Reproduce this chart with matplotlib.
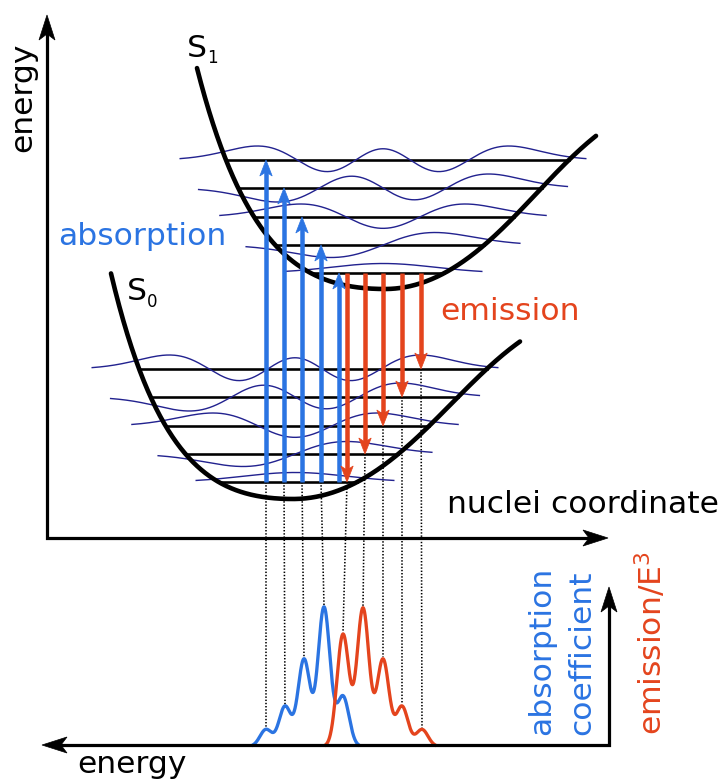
import numpy as np
import matplotlib.pyplot as plt
from matplotlib.patches import Polygon
from numpy.polynomial import hermite

# canvas in pixel units (y grows downward)
W, H = 726, 780
PT = 0.72  # points per pixel at 100 dpi

BLUE = '#2b74e2'
RED = '#e4441d'
NAVY = '#22228f'
FS = 22.6

# potential wells: bottom position and shape parameters
s0_bottom = (293, 499)
s1_bottom = (385, 289)
s0_shape = dict(a_left=0.0065, d_left=44.0, w_right=220.0, d_right=200.0)
s1_shape = dict(a_left=0.006, d_left=50.6, w_right=210.0, d_right=200.0)
s0_span = (-182, 227)
s1_span = (-188, 211)

# vibrational levels, height above the bottom of each well
s0_levels = [17, 45, 73, 102, 130]
s1_levels = [16, 44, 72, 101, 129]

# wavefunction centres, width unit and drawn amplitude per quantum number
s0_wave_centre = 295
s1_wave_centre = 383
wave_unit = 52
wave_amp = [9.5, 12.5, 13, 14, 14]

# vertical transitions
absorption_x = [266, 284, 302, 321, 339]
absorption_to = [4, 3, 2, 1, 0]
emission_x = [347, 365, 383, 402, 421]
emission_to = [0, 1, 2, 3, 4]

# spectrum peaks (position along the energy axis, height)
abs_peak_x = [266, 285, 304, 324, 343]
abs_peak_h = [17, 40, 87, 139, 50]
em_peak_x = [343, 363, 383, 402, 422]
em_peak_h = [112, 138, 87, 40, 17]
peak_sigma = 6.0
spec_base = 745


def well_height(u, a_left, d_left, w_right, d_right):
    u = np.asarray(u, float)
    left = d_left * (np.exp(-a_left * u) - 1) ** 2
    right = d_right * np.tanh((u / w_right) ** 2)
    return np.where(u < 0, left, right)


def turning_points(e, a_left, d_left, w_right, d_right):
    ul = -np.log(1 + np.sqrt(e / d_left)) / a_left
    ur = w_right * np.sqrt(np.arctanh(e / d_right))
    return ul, ur


def wavefunction(n, xi):
    c = np.zeros(n + 1)
    c[n] = 1
    psi = hermite.hermval(xi, c) * np.exp(-xi ** 2 / 2)
    return psi / np.abs(psi).max()


def spectrum(x, centres, heights):
    x = np.asarray(x, float)
    out = np.zeros_like(x)
    for c, h in zip(centres, heights):
        out += h * np.exp(-(x - c) ** 2 / (2 * peak_sigma ** 2))
    return out


def arrow_head(ax, x, y, direction, length, half, notch, color, z):
    # direction: -1 points up the page, +1 points down
    back = y - direction * length
    pts = [(x, y), (x - half, back), (x, back + direction * notch), (x + half, back)]
    ax.add_patch(Polygon(pts, closed=True, facecolor=color, edgecolor=color,
                         lw=0.5, zorder=z))


def head_h(ax, x, y, direction, length, half, notch, color, z):
    back = x - direction * length
    pts = [(x, y), (back, y - half), (back + direction * notch, y), (back, y + half)]
    ax.add_patch(Polygon(pts, closed=True, facecolor=color, edgecolor=color,
                         lw=0.5, zorder=z))


def transition(ax, x, y0, y1, color):
    d = 1 if y1 > y0 else -1
    ax.plot([x, x], [y0, y1 - d * 10], color=color, lw=4.5 * PT,
            solid_capstyle='butt', zorder=6)
    arrow_head(ax, x, y1, d, 16, 6.2, 4, color, 6)


fig = plt.figure(figsize=(W / 100, H / 100), dpi=100)
ax = fig.add_axes([0, 0, 1, 1])
ax.set_xlim(0, W)
ax.set_ylim(H, 0)
ax.axis('off')

wells = [(s0_bottom, s0_shape, s0_span, s0_levels, s0_wave_centre),
         (s1_bottom, s1_shape, s1_span, s1_levels, s1_wave_centre)]
level_y = []
for (bx, by), shape, span, levels, wc in wells:
    u = np.linspace(span[0], span[1], 600)
    ax.plot(bx + u, by - well_height(u, **shape), color='black',
            lw=4.6 * PT, solid_capstyle='round', zorder=4)
    ys = []
    for n, e in enumerate(levels):
        y = by - e
        ys.append(y)
        ul, ur = turning_points(e, **shape)
        ax.plot([bx + ul, bx + ur], [y, y], color='black', lw=2.6 * PT, zorder=2)
        reach = np.sqrt(2 * n + 1) + 0.9
        xi = np.linspace(-reach, reach, 400)
        ax.plot(wc + xi * wave_unit, y - wave_amp[n] * wavefunction(n, xi),
                color=NAVY, lw=1.4 * PT, zorder=3)
    level_y.append(ys)
s0_y, s1_y = level_y

# absorption and emission arrows
for x, v in zip(absorption_x, absorption_to):
    transition(ax, x, s0_y[0], s1_y[v], BLUE)
for x, v in zip(emission_x, emission_to):
    transition(ax, x, s1_y[0], s0_y[v], RED)

# dotted guides from each transition down to its spectral line
dots = dict(color='black', lw=1.6 * PT, linestyle=(0, (0.9, 1.1)), zorder=1)
for x, px in zip(absorption_x[:4], abs_peak_x[:4]):
    top = spec_base - spectrum([px], abs_peak_x, abs_peak_h)[0]
    ax.plot([x, px], [s0_y[0], top], **dots)
for x, v, px in zip(emission_x, emission_to, em_peak_x):
    top = spec_base - spectrum([px], em_peak_x, em_peak_h)[0]
    ax.plot([x, px], [s0_y[v], top], **dots)

# spectra
for centres, heights, color, z in [(abs_peak_x, abs_peak_h, BLUE, 7),
                                    (em_peak_x, em_peak_h, RED, 8)]:
    xs = np.linspace(200, 480, 1400)
    s = spectrum(xs, centres, heights) - 1.5
    keep = s > 0
    ax.plot(xs[keep], spec_base - s[keep], color=color, lw=3.3 * PT, zorder=z)

# coordinate axes
ax.plot([47, 47, 590], [30, 538, 538], color='black', lw=3.2 * PT,
        solid_joinstyle='miter', zorder=9)
arrow_head(ax, 47, 15, -1, 25, 8, 6, 'black', 9)
head_h(ax, 608, 538, 1, 25, 8, 6, 'black', 9)

ax.plot([609, 609, 60], [600, spec_base, spec_base], color='black', lw=3.2 * PT,
        solid_joinstyle='miter', zorder=9)
arrow_head(ax, 609, 587, -1, 25, 8, 6, 'black', 9)
head_h(ax, 42, spec_base, -1, 25, 8, 6, 'black', 9)

# labels
ax.text(31, 152, 'energy', fontsize=FS, rotation=90, rotation_mode='anchor',
        ha='left', va='baseline')
ax.text(447, 513, 'nuclei coordinate', fontsize=FS, ha='left', va='baseline')
ax.text(77, 773, 'energy', fontsize=FS, ha='left', va='baseline')
ax.text(58, 245, 'absorption', fontsize=FS, color=BLUE, ha='left', va='baseline')
ax.text(440, 320, 'emission', fontsize=FS, color=RED, ha='left', va='baseline')
ax.text(187, 57, 'S', fontsize=FS, ha='left', va='baseline')
ax.text(207, 63, '1', fontsize=12, ha='left', va='baseline')
ax.text(127, 300, 'S', fontsize=FS, ha='left', va='baseline')
ax.text(147, 307, '0', fontsize=12, ha='left', va='baseline')
ax.text(550, 735, 'absorption', fontsize=FS, color=BLUE, rotation=90,
        rotation_mode='anchor', ha='left', va='baseline')
ax.text(590, 735, 'coefficient', fontsize=FS, color=BLUE, rotation=90,
        rotation_mode='anchor', ha='left', va='baseline')
ax.text(662, 735, 'emission/E$^3$', fontsize=FS, color=RED, rotation=90,
        rotation_mode='anchor', ha='left', va='baseline')

fig.savefig('out.png', dpi=100)
